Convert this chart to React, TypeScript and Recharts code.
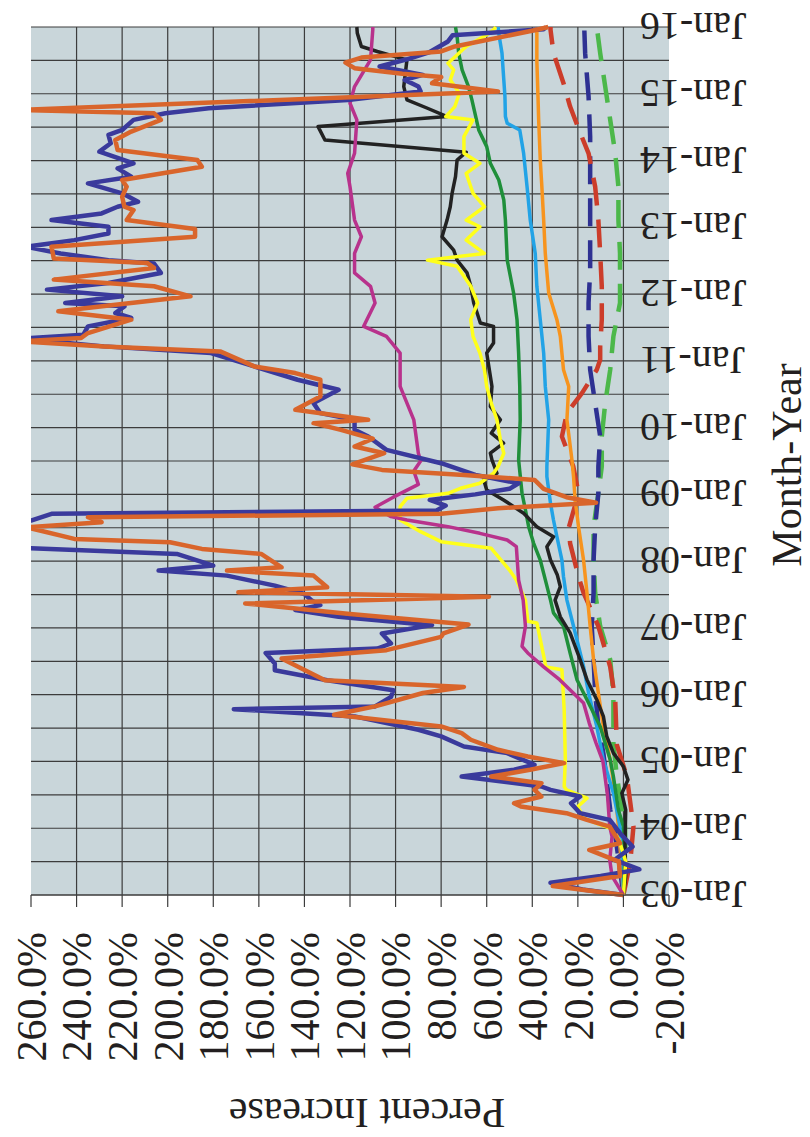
import React from "react"
import { LineChart, Line, XAxis, YAxis, CartesianGrid, Label } from "recharts"

// months counted from Jan-03, values in percent
const tickMonths = [0, 12, 24, 36, 48, 60, 72, 84, 96, 108, 120, 132, 144, 156]
const yearLabels = ["Jan-03", "Jan-04", "Jan-05", "Jan-06", "Jan-07", "Jan-08", "Jan-09", "Jan-10", "Jan-11", "Jan-12", "Jan-13", "Jan-14", "Jan-15", "Jan-16"]
const halfYearMonths = [0, 6, 12, 18, 24, 30, 36, 42, 48, 54, 60, 66, 72, 78, 84, 90, 96, 102, 108, 114, 120, 126, 132, 138, 144, 150, 156]
const valueTicks = [-20, 0, 20, 40, 60, 80, 100, 120, 140, 160, 180, 200, 220, 240, 260]
const valueGrid = [0, 20, 40, 60, 80, 100, 120, 140, 160, 180, 200, 220, 240]

const navyPts = [
  [0, 0], [1, 18], [2.2, 32], [3.4, 10], [4.6, -7], [6.3, 4], [8.7, -4], [11.1, 1.5], [13.5, 6], [14.7, 19],
  [16.5, 23], [17.7, 19], [18.9, 32], [19.5, 36], [21.3, 71], [22.5, 48], [23.4, 39], [25.5, 51], [26.7, 70], [28.5, 80],
  [29.7, 90], [32.1, 118], [33.4, 171], [33.9, 109], [35.6, 102], [36.8, 101], [38.6, 130], [40.4, 153], [41.6, 153], [43.5, 157],
  [44.3, 108], [45.2, 102], [47, 106], [48.5, 84], [50, 125], [51.2, 144], [52.1, 133], [53, 137], [54.1, 140], [55.6, 153],
  [57.4, 174], [58.3, 204], [59.2, 180], [61.3, 196], [62.3, 260], [63.5, 275], [65, 284], [66.5, 272], [67.3, 260], [68.5, 251],
  [69.1, 82], [70, 78], [71, 85], [72, 65], [73, 50], [74, 46], [75.5, 65], [77.6, 80], [80, 104], [82.4, 112],
  [83.6, 118], [85.4, 118], [86.6, 133], [88.4, 136], [90.8, 125], [92.6, 143], [95, 162], [97.4, 181], [98.6, 228], [100, 264],
  [100.7, 237], [102.2, 235], [103.7, 216], [104.6, 223], [105.8, 219], [106.4, 245], [107.6, 220], [108.8, 253], [110, 226], [111.8, 203],
  [113.5, 206], [114.1, 226], [115.3, 247], [116.5, 262], [117.7, 241], [118.9, 226], [120.1, 226], [121.3, 251], [122.5, 229], [123.7, 222],
  [124.6, 213], [126.1, 220], [127.9, 235], [129.1, 216], [130.6, 222], [131.5, 215], [132.5, 222], [133.6, 230], [135.1, 225], [136.6, 226],
  [137.5, 220], [139.3, 215], [140.5, 201], [141.4, 182], [142.9, 121], [144.4, 89], [145.3, 90], [146.5, 96], [147.4, 88], [148.9, 107],
  [150.2, 95], [151.5, 85], [153.4, 77], [154.5, 75], [155.6, 35], [156, 34],
]

const orangePts = [
  [0, 0], [1.6, 31], [3.4, 1.5], [6, 2], [8.1, 15], [9.3, 1.5], [12.3, 6], [13.5, 16], [14.7, 25], [15.9, 45],
  [16.5, 48], [17.7, 36], [18.9, 39], [20.1, 36], [21.3, 58], [22.5, 41], [23.7, 26], [24.9, 42], [26.1, 55], [27.9, 67],
  [29.1, 71], [30.3, 80], [32.4, 127], [33.9, 109], [36.3, 88], [37.4, 70], [38.6, 131], [42.5, 150], [44, 104], [46.4, 80],
  [47, 79], [48.6, 68], [50.5, 120], [52.4, 166], [53.6, 59], [54.4, 169], [55.3, 130], [57.4, 136], [58.3, 174], [58.9, 150],
  [61.3, 159], [62.2, 185], [63.4, 199], [64, 241], [66.1, 262], [67, 229], [67.9, 235], [68.5, 80], [69.5, 55], [70.5, 12],
  [71.5, 25], [73, 35], [74.6, 39], [75.5, 70], [76.4, 106], [77.4, 119], [79.4, 105], [80.6, 118], [82, 110], [83.6, 124],
  [84.8, 136], [85.4, 112], [87.2, 144], [89.6, 133], [92.6, 133], [93.8, 144], [95, 162], [97.7, 177], [98.6, 228], [99.5, 264],
  [100.1, 238], [101, 235], [103.4, 216], [104.9, 248], [106.2, 220], [107.6, 190], [109.4, 206], [110.6, 250], [112.7, 206], [113.6, 209],
  [114.4, 250], [116.5, 251], [118.3, 188], [119.7, 188], [121.3, 218], [123.1, 215], [123.7, 219], [125.5, 220], [127.3, 218], [128.5, 220],
  [130.9, 185], [132.1, 187], [133.9, 222], [135.7, 223], [137.2, 216], [139.3, 203], [140.5, 206], [141.1, 265], [144.4, 55], [145.9, 84],
  [147, 80], [147.6, 97], [148.6, 118], [149.6, 122], [150.5, 115], [151.6, 80], [152.5, 74], [155.5, 38], [156, 33],
]

const magentaPts = [
  [0, 0], [3.4, 5], [6.3, 6], [10.5, 5], [12.3, 6], [18, 7], [24, 9], [27.3, 12], [30.9, 15], [34.5, 17.5],
  [36.3, 22], [38.7, 28], [41, 35], [43.5, 42], [44.7, 44.5], [48.3, 43], [53, 44], [56.6, 46], [62.6, 47], [63.8, 51],
  [65, 63], [66.2, 77], [67.4, 95], [68, 102], [69.7, 109], [71.5, 101], [73.8, 90], [76.2, 92], [78, 89], [79.4, 90],
  [85.4, 92], [91.4, 98], [97.4, 98], [100.4, 104], [102.2, 114], [106.4, 109], [109.4, 111], [111.8, 118], [115.3, 118], [118.3, 115],
  [121.3, 118], [127.3, 120], [129.7, 121], [133.3, 118], [139.3, 117], [142.3, 120], [145.3, 118], [150.1, 111], [155.5, 110], [156, 110],
]

const yellowPts = [
  [0, 0], [6, -1], [10, 2], [12, 6], [12.9, 12], [13.8, 17.5], [15.9, 20], [17.4, 16], [18.9, 25], [19.5, 26],
  [24.3, 25.5], [33.3, 26], [40.5, 27], [41, 34], [48.9, 38], [49.2, 42], [53, 43], [56.6, 47], [58.4, 50], [62.3, 58],
  [63.5, 80], [65.3, 89], [67.4, 98], [69.8, 98], [71.3, 95], [72.2, 77], [73.1, 71.5], [74, 63], [75.8, 57], [77, 55],
  [79.4, 52.5], [81.8, 54], [85.4, 55.5], [88.4, 58], [91.4, 60], [94.4, 61], [97.4, 63], [100.4, 66], [103.4, 67], [106.4, 64],
  [109.4, 67], [113, 73], [114.1, 86], [115.3, 61], [117.7, 69], [120.1, 63], [121.3, 69], [123.7, 61], [126.1, 66], [129.7, 69],
  [131.5, 63], [133.3, 70], [136.3, 70], [139.3, 66], [139.9, 78], [141.7, 74], [144.1, 72], [146.5, 76], [148.3, 74.5], [149.5, 77],
  [152.5, 69], [154.6, 60], [155.5, 57], [156, 56],
]

const blackPts = [
  [0, 0], [3.4, -1], [9.3, -0.7], [15.3, -1], [18.3, 0.7], [20.7, -2], [23.1, 0], [25.5, 4.4], [28.5, 7.3], [32.1, 8.8],
  [35.1, 11.7], [38.7, 16], [42.3, 19], [47.1, 23.4], [50, 27.7], [53, 30], [55.4, 27.7], [57.5, 29], [60.2, 32], [62.6, 33.6],
  [64.4, 30.7], [66.2, 38], [68.6, 43.8], [71, 52.6], [72.8, 60], [74.6, 61.3], [75.8, 55.5], [78.2, 57.7], [79.4, 58.4], [81.2, 52.6],
  [83, 58], [85.4, 54], [87.8, 58.4], [91.4, 57.7], [97.4, 60], [99.2, 57], [102.2, 57], [102.8, 62.8], [104.6, 64.2], [106.4, 65.7],
  [109.4, 67], [111.8, 68.6], [114.1, 73], [115.9, 74.5], [118.3, 79.6], [121.3, 77.4], [123.7, 76], [126.1, 75.2], [129.1, 73.7], [132.1, 73],
  [133.5, 69], [135.7, 131], [138.1, 134], [139.9, 77.4], [141.4, 86], [142.9, 95], [145.3, 96.4], [150.1, 95], [151.6, 108], [152.5, 115],
  [154.9, 116.8], [156, 117],
]

const greenPts = [
  [0, 0], [6, -0.5], [12.3, 0], [15.3, 2.2], [21.3, 4.4], [24.3, 5.8], [30.3, 10.2], [35.1, 16], [38.7, 20.4], [43.5, 23.4],
  [48.3, 26.3], [50.7, 30.7], [53, 32], [57.8, 35], [60.2, 36.5], [63.2, 39.4], [66.2, 41.6], [69.2, 43], [72.2, 44.5], [78.2, 46],
  [85.4, 45.3], [91.4, 45.5], [97.4, 46], [103.4, 46.7], [108.2, 48.2], [114.1, 51], [121.3, 51.8], [124.9, 52.5], [128.5, 54.7], [131.5, 58.4],
  [134.5, 60], [137.5, 63.5], [142.9, 66.5], [145.3, 68], [148.3, 70.8], [151.3, 72.3], [154.3, 73], [156, 73.7],
]

const skyPts = [
  [0, 0], [6, 0.5], [12.3, 1.5], [18.3, 4.4], [24.3, 8.8], [30.3, 11.7], [36.3, 15.3], [41.1, 17.5], [44.7, 19.7], [48.3, 21.9],
  [53, 24.8], [57.2, 26.3], [60.2, 27], [64.4, 29.2], [67.4, 30.7], [70.4, 32], [75.2, 33.6], [77, 33.6], [85.4, 32.8], [91.4, 34.3],
  [97.4, 35], [103.4, 36.5], [109.4, 38], [115.3, 38.7], [121.3, 40.9], [127.3, 42.3], [133.3, 43.8], [137.5, 45.5], [138.7, 51], [139.9, 51.8],
  [143.5, 52], [146.5, 52.5], [151.3, 53.3], [154.3, 54.5], [156, 55],
]

const amberPts = [
  [0, 0], [6, 1], [12.3, 2.2], [18.3, 3.6], [24.3, 5.8], [30.3, 8.8], [36.3, 11], [42.3, 13.1], [48.3, 14.6], [54.3, 16],
  [60.2, 17.5], [66.2, 19.7], [71, 21.2], [75.2, 21.9], [78.2, 22.6], [85.4, 24.8], [91.4, 24], [94.4, 26.3], [100.4, 27.7], [103.4, 29.2],
  [108.2, 32.8], [115.3, 34.3], [121.3, 35], [127.3, 35.8], [132.1, 36.5], [139.3, 37.2], [143.5, 37.5], [150, 38], [156, 38],
]

const redDashPts = [
  [0, 0], [6, -3], [12.3, -4.4], [21.3, -1.5], [27, 2.9], [35.1, 3.6], [41, 5.8], [48.3, 11], [54.3, 17.5], [57.2, 19.7],
  [63.2, 23.4], [66, 24], [72.2, 19.7], [77, 22], [82.4, 27], [86.6, 24.8], [90.2, 18.2], [94.4, 11.7], [96.2, 10.2], [98.6, 10.2],
  [103.4, 9.5], [109.4, 9.5], [115.3, 10.2], [121.3, 11], [127.3, 12.4], [133.3, 15.3], [137, 19], [141.7, 23.4], [145.9, 26.3], [151.3, 30.7],
  [155.5, 32], [156, 32],
]

const navyDashPts = [
  [0, 0], [6, 2], [12, 4], [15.3, 5.8], [25.5, 8.8], [30.3, 11], [36.3, 12.4], [42.3, 13.1], [48.3, 13.9], [54.3, 13.1],
  [60.2, 13.1], [66.2, 12.4], [72.2, 11], [77, 11], [82.4, 10.2], [88.4, 12.4], [94.4, 14.6], [100.4, 15.3], [106.4, 15.3], [112.3, 14.6],
  [124.3, 14.6], [136.3, 14.6], [143.5, 15.3], [151.3, 16.8], [156, 17.2],
]

const greenDashPts = [
  [0, 0], [6, -1], [12.3, -0.7], [21.3, 2.9], [27.3, 4.4], [36.3, 4.4], [42.3, 5.8], [48.3, 10.2], [54.3, 12.4], [60.2, 13.1],
  [66.2, 13.1], [72.2, 11], [77, 9.5], [82.4, 9.5], [88.4, 8], [94.4, 5.8], [100.4, 4.4], [106.4, 1.5], [115.3, 1.5], [121.3, 2.2],
  [127.3, 2.2], [133.3, 3.6], [139.3, 5.8], [145.3, 8], [151.3, 10.2], [156, 11.7],
]

const rows = (pts: number[][]) => pts.map(([m, v]) => ({ m, v }))

const series = [
  { id: "greenDash", pts: greenDashPts, color: "#4cb84a", width: 4.5, dash: "28 14" },
  { id: "navyDash", pts: navyDashPts, color: "#2e3192", width: 4.5, dash: "28 14" },
  { id: "redDash", pts: redDashPts, color: "#cc3d2a", width: 4.5, dash: "28 14" },
  { id: "amber", pts: amberPts, color: "#f7941e", width: 3.5 },
  { id: "sky", pts: skyPts, color: "#22a3e6", width: 3.5 },
  { id: "green", pts: greenPts, color: "#1f8f3a", width: 3.5 },
  { id: "black", pts: blackPts, color: "#222222", width: 3.5 },
  { id: "yellow", pts: yellowPts, color: "#ffff1a", width: 3.5 },
  { id: "magenta", pts: magentaPts, color: "#b8328c", width: 3.5 },
  { id: "navy", pts: navyPts, color: "#3a3a9c", width: 4.5 },
  { id: "orange", pts: orangePts, color: "#d9652b", width: 4.5 },
]

const FONT = "Liberation Serif, Times New Roman, serif"
const INK = "#231f20"

function DateTick(props: any) {
  const { x, y, payload } = props
  const i = tickMonths.indexOf(payload.value)
  const ty = y - 29
  return (
    <text x={x} y={ty} transform={`rotate(-90, ${x}, ${ty})`} textAnchor="end" dy="0.35em"
      fontSize={40} fontFamily={FONT} fill={INK}>
      {i >= 0 ? yearLabels[i] : ""}
    </text>
  )
}

function YTitle(props: any) {
  const vb = props.viewBox
  const tx = vb.x + 38
  const ty = vb.y + vb.height / 2 + 17
  return (
    <text x={tx} y={ty} transform={`rotate(-90, ${tx}, ${ty})`} textAnchor="middle"
      fontSize={42} fontFamily={FONT} fill={INK}>Percent Increase</text>
  )
}

function XTitle(props: any) {
  const vb = props.viewBox
  return (
    <text x={vb.x + vb.width / 2 - 4} y={vb.y + 132} textAnchor="middle"
      fontSize={42} fontFamily={FONT} fill={INK}>Month-Year</text>
  )
}

export default function App() {
  return (
    <div style={{ position: "fixed", left: 0, top: 0, width: 810, height: 1137, overflow: "hidden", background: "#fff" }}>
      {/* chart is drawn in landscape and turned a quarter to the left, like the scanned page */}
      <div style={{
        position: "absolute", left: 0, top: 0, width: 1137, height: 810,
        transformOrigin: "0 0", transform: "translate(0px, 1137px) rotate(-90deg)",
      }}>
        <LineChart width={1137} height={810} margin={{ top: 31, right: 27, bottom: 0, left: 0 }}>
          <CartesianGrid fill="#c9d6da" stroke="#3c3c3c" strokeWidth={1.2}
            horizontalValues={valueGrid} verticalValues={halfYearMonths} />
          <XAxis dataKey="m" type="number" domain={[0, 156]} ticks={tickMonths} height={141}
            axisLine={false} tickLine={false} tickSize={0} tickMargin={0} tick={<DateTick />} interval={0}>
            <Label content={<XTitle />} />
          </XAxis>
          <YAxis type="number" domain={[-20, 260]} ticks={valueTicks} width={242} allowDataOverflow
            interval={0} tickFormatter={(v) => `${Number(v).toFixed(1)}%`}
            axisLine={{ stroke: "#3c3c3c", strokeWidth: 1.2 }} tickLine={{ stroke: "#3c3c3c", strokeWidth: 1.2 }}
            tickSize={12} tickMargin={25} tick={{ fontSize: 42, fontFamily: FONT, fill: INK }}>
            <Label content={<YTitle />} />
          </YAxis>
          {series.map((s) => (
            <Line key={s.id} data={rows(s.pts)} dataKey="v" type="linear" stroke={s.color} strokeWidth={s.width}
              strokeDasharray={s.dash} strokeLinejoin="round" dot={false} activeDot={false} isAnimationActive={false} />
          ))}
        </LineChart>
      </div>
    </div>
  )
}
